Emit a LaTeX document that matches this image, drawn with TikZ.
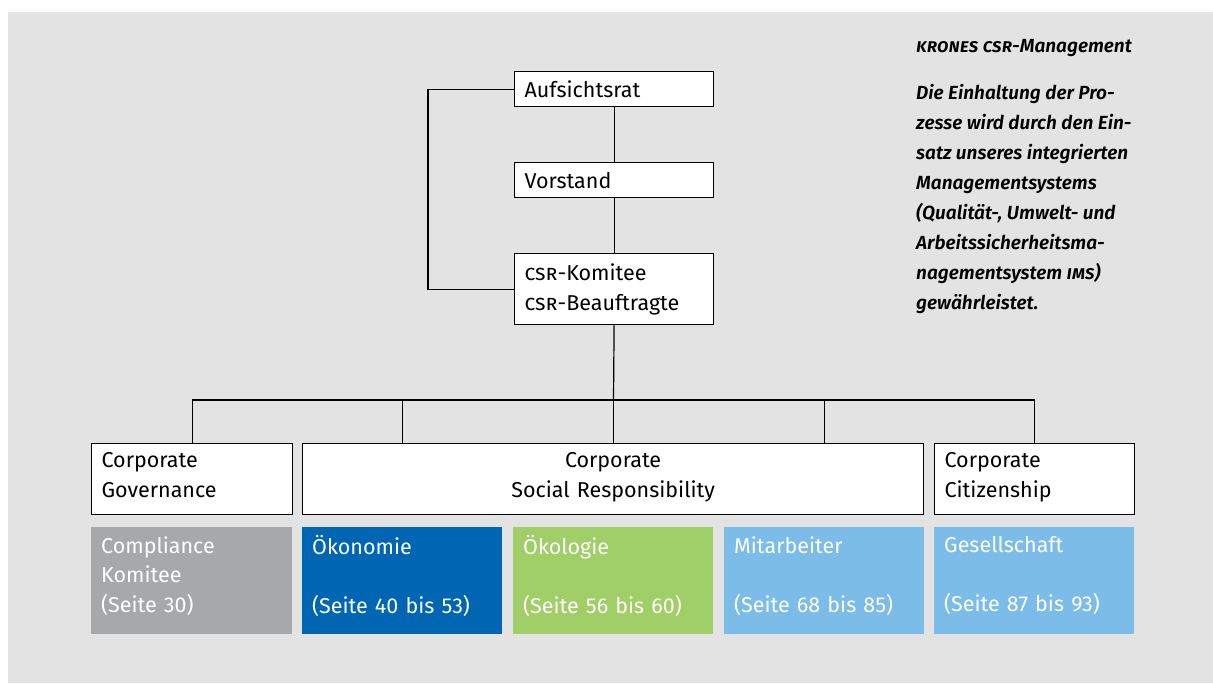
\documentclass[tikz,border=0pt]{standalone}
\usepackage{fontspec}
\setmainfont{Fira Sans}[BoldFont={Fira Sans SemiBold},
    BoldItalicFont={Fira Sans SemiBold Italic}]
\usepackage{xcolor}
\usetikzlibrary{positioning}

\definecolor{bggray}{HTML}{E3E3E3}
\definecolor{compgray}{HTML}{A7A8AA}
\definecolor{oekblue}{HTML}{0066B3}
\definecolor{oekgreen}{HTML}{A0CE67}
\definecolor{lightblue}{HTML}{7CBCE8}

% extra depth under the last line of a report area
\newcommand{\areadepth}{\rule[-13pt]{0pt}{13pt}}

\begin{document}
\begin{tikzpicture}[x=1pt,y=-1pt]
        \tikzstyle{orgbox}=[draw=black,fill=white,line width=1.2pt,anchor=north west,
            inner xsep=10pt,inner ysep=0pt,align=left,text width=179pt,
            font=\fontsize{21.5}{30}\selectfont]
        \tikzstyle{areabox}=[fill=#1,text=white,anchor=north west,
            inner xsep=10pt,inner ysep=0pt,align=left,text width=180pt,
            minimum height=107pt,font=\fontsize{21.5}{29.5}\selectfont]
        \tikzstyle{orgline}=[line width=1.2pt]
        \tikzstyle{note}=[anchor=north west,inner sep=0pt,align=left,
            font=\fontsize{19}{30}\selectfont\bfseries\itshape]

            \useasboundingbox (0,0) rectangle (1213,683);
            \fill[bggray] (8,12) rectangle (1213,683);

            % management chain
            \node[orgbox, minimum height=35pt] (auf) at (514,71) {Aufsichtsrat};
            \node[orgbox, minimum height=35pt] (vor) at (514,162) {Vorstand};
            \node[orgbox, minimum height=71pt] (csr) at (514,253)
                {\textsc{csr}-Komitee\\\textsc{csr}-Beauftragte};

            % second level
            \node[orgbox, minimum height=71pt, text width=181pt] (cg) at (91,443)
                {Corporate\\Governance\strut};
            \node[orgbox, minimum height=71pt, text width=601pt, align=center] (csrr)
                at (302,443) {Corporate\\Social Responsibility\strut};
            \node[orgbox, minimum height=71pt, text width=180pt] (cc) at (934,443)
                {Corporate\\Citizenship\strut};

            % report areas
            \node[areabox=compgray, text width=181pt] (comp) at (91,527)
                {Compliance\\Komitee\\(Seite 30)\areadepth};
            \node[areabox=oekblue] (oek) at (302,527)
                {Ökonomie\\\mbox{}\\(Seite 40 bis 53)\areadepth};
            \node[areabox=oekgreen] (okol) at (513,527)
                {Ökologie\\\mbox{}\\(Seite 56 bis 60)\areadepth};
            \node[areabox=lightblue] (mit) at (724,527)
                {Mitarbeiter\\\mbox{}\\(Seite 68 bis 85)\areadepth};
            \node[areabox=lightblue] (ges) at (934,527)
                {Gesellschaft\\\mbox{}\\(Seite 87 bis 93)\areadepth};

            % connectors
            \draw[orgline] (auf.south) -- (vor.north);
            \draw[orgline] (vor.south) -- (csr.north);
            \draw[orgline] (auf.west) -- ++(-86,0) |- (csr.west);
            \coordinate (bus) at (613.5,400);
            \draw[orgline] (csr.south) -- (bus);
            \draw[orgline] (cg.north) |- (cc.north |- bus) -- (cc.north);
            \draw[orgline] (oek.north |- bus) -- (oek.north |- csrr.north);
            \draw[orgline] (csrr.north |- bus) -- (csrr.north);
            \draw[orgline] (mit.north |- bus) -- (mit.north |- csrr.north);

            % side note
            \node[note] (title) at (916,39) {\textsc{krones csr}-Management};
            \node[note] (text) at (916,84)
                {Die Einhaltung der Pro-\\zesse wird durch den Ein-\\
                satz unseres integrierten\\Managementsystems\\
                (Qualität-, Umwelt- und\\Arbeitssicherheitsma-\\
                nagementsystem \textsc{ims})\\gewährleistet.};
        \end{tikzpicture}
\end{document}
